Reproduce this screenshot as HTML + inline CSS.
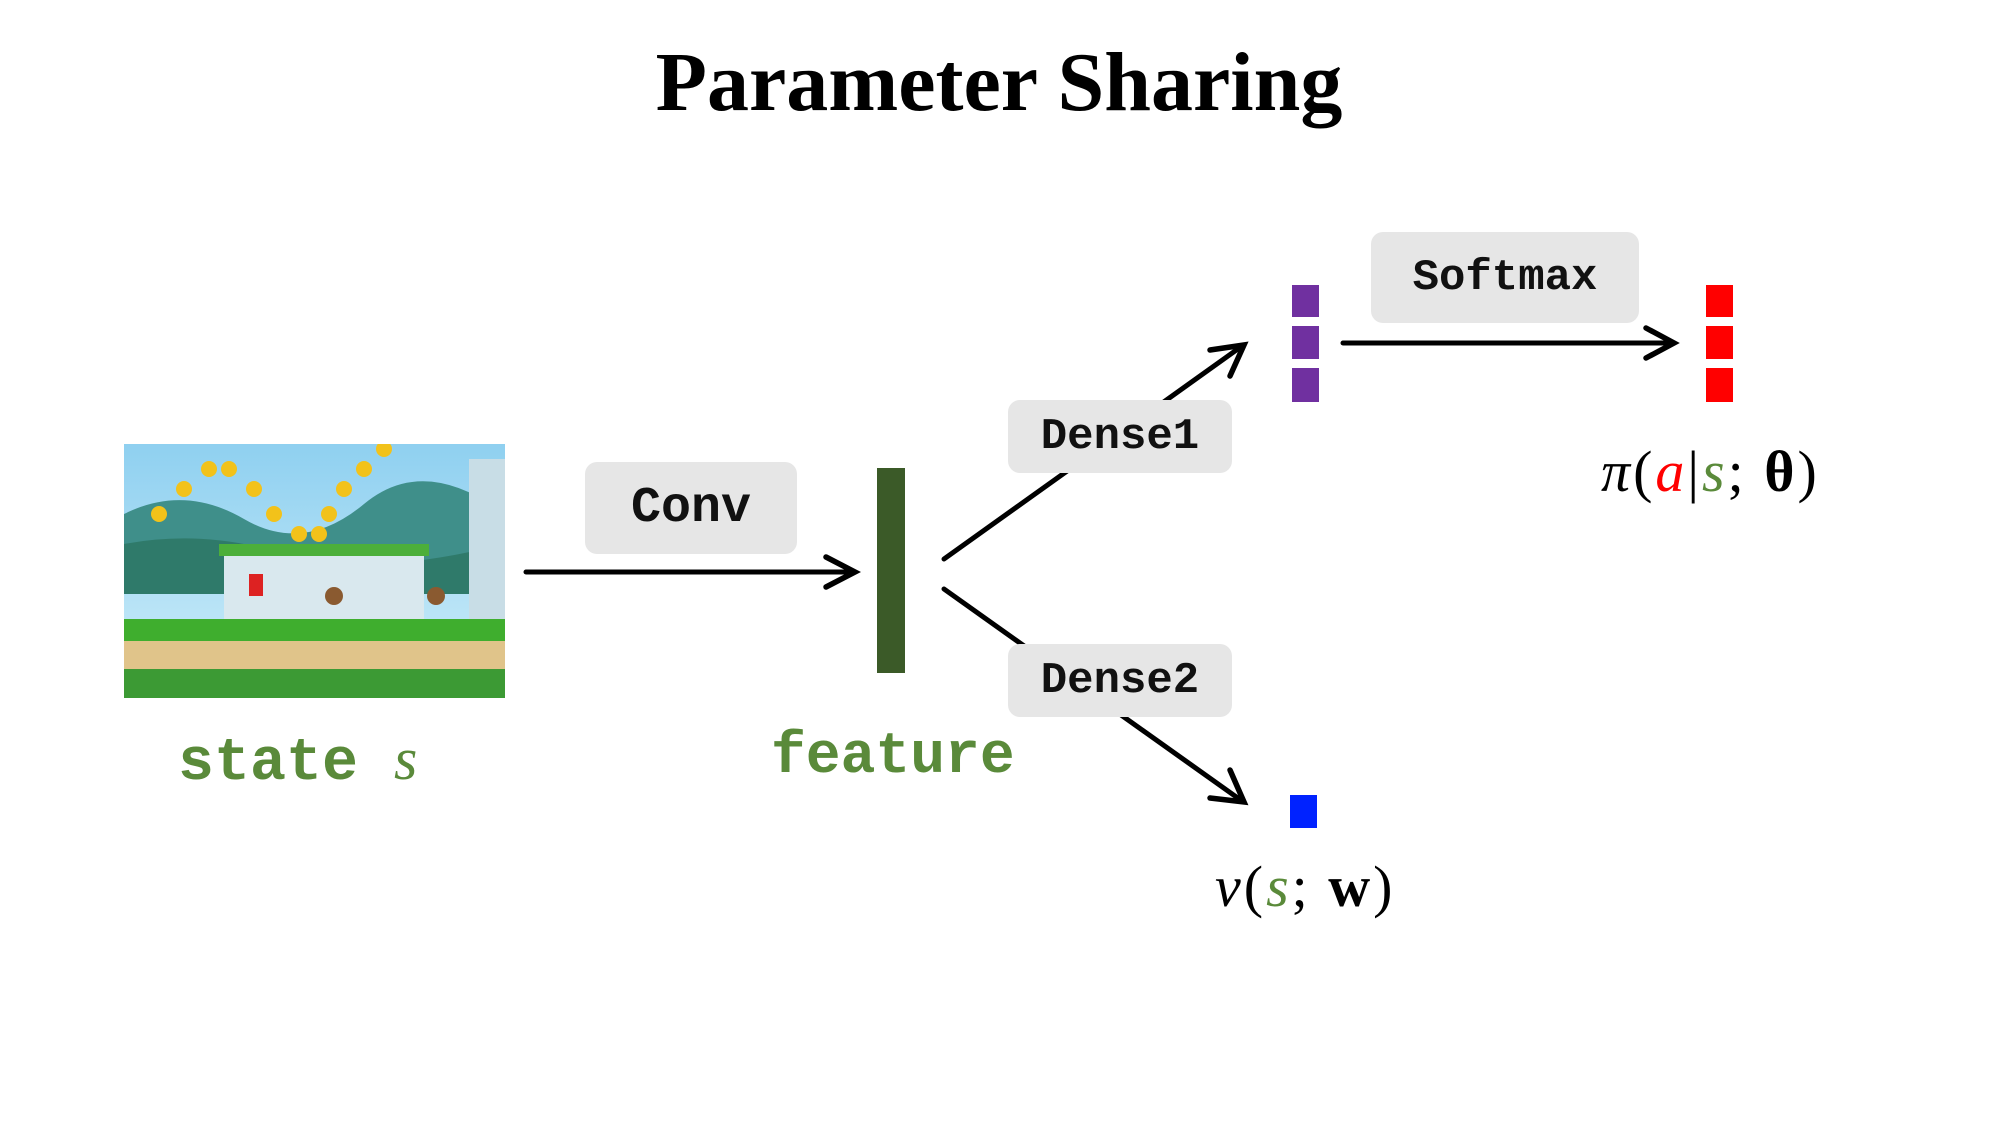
<!DOCTYPE html>
<html><head><meta charset="utf-8"><style>
html,body{margin:0;padding:0;background:#fff;}
#c{position:relative;width:2000px;height:1125px;overflow:hidden;font-family:"Liberation Serif",serif;}
.t{position:absolute;white-space:nowrap;}
.box{position:absolute;background:#e6e6e6;border-radius:12px;display:flex;align-items:center;justify-content:center;font-family:"Liberation Mono",monospace;font-weight:bold;color:#111;}
.sq{position:absolute;}
</style></head><body><div id="c">
<div class="t" style="left:0;width:1998px;text-align:center;top:34px;font-size:84px;font-weight:bold;">Parameter Sharing</div>

<svg style="position:absolute;left:124px;top:444px" width="381" height="254" viewBox="0 0 381 254">
<defs><linearGradient id="sky" x1="0" y1="0" x2="0" y2="1"><stop offset="0" stop-color="#8fd0f0"/><stop offset="1" stop-color="#cfeefa"/></linearGradient></defs>
<rect width="381" height="254" fill="url(#sky)"/>
<path d="M0 70 Q60 40 120 75 T240 60 T381 70 V140 H0Z" fill="#3f8f8a"/>
<path d="M0 100 Q80 85 160 110 T381 100 V150 H0Z" fill="#2f7a6a"/>
<rect x="100" y="105" width="200" height="80" fill="#d9e8ee"/>
<rect x="95" y="100" width="210" height="12" fill="#4caf3a"/>
<rect x="345" y="15" width="36" height="170" fill="#c8dde6"/>
<rect x="0" y="175" width="381" height="22" fill="#3fae2e"/>
<rect x="0" y="197" width="381" height="28" fill="#e0c48a"/>
<rect x="0" y="225" width="381" height="29" fill="#3c9a34"/>
<g fill="#f2c21a"><circle cx="85" cy="25" r="8"/><circle cx="105" cy="25" r="8"/><circle cx="60" cy="45" r="8"/><circle cx="35" cy="70" r="8"/><circle cx="130" cy="45" r="8"/><circle cx="150" cy="70" r="8"/><circle cx="175" cy="90" r="8"/><circle cx="195" cy="90" r="8"/><circle cx="240" cy="25" r="8"/><circle cx="260" cy="5" r="8"/><circle cx="220" cy="45" r="8"/><circle cx="205" cy="70" r="8"/></g>
<rect x="125" y="130" width="14" height="22" fill="#d22"/>
<circle cx="210" cy="152" r="9" fill="#8a5a30"/><circle cx="312" cy="152" r="9" fill="#8a5a30"/>
</svg>

<div class="t" style="left:178px;top:725px;font-family:'Liberation Mono',monospace;font-weight:bold;font-size:60px;color:#5a8a3a;">state <span style="font-family:'Liberation Serif',serif;font-style:italic;font-weight:normal;">s</span></div>

<svg style="position:absolute;left:0;top:0" width="2000" height="1125">
<g stroke="#000" stroke-width="5" fill="none" stroke-linecap="round">
<line x1="526" y1="572" x2="853" y2="572"/><polyline points="826,557 855,572 826,587" stroke-width="5.5"/>
<line x1="944" y1="559" x2="1242" y2="346"/><polyline points="1210,350 1244,345 1230,376" stroke-width="5.5"/>
<line x1="944" y1="589" x2="1242" y2="801"/><polyline points="1230,770 1244,802 1210,798" stroke-width="5.5"/>
<line x1="1343" y1="343" x2="1672" y2="343"/><polyline points="1646,328 1674,343 1646,358" stroke-width="5.5"/>
</g></svg>

<div class="box" style="left:585px;top:462px;width:212px;height:92px;font-size:50px;">Conv</div>
<div class="sq" style="left:877px;top:468px;width:28px;height:205px;background:#3b5a28;"></div>
<div class="t" style="left:771px;top:725px;font-family:'Liberation Mono',monospace;font-weight:bold;font-size:58px;color:#5a8a3a;">feature</div>

<div class="box" style="left:1008px;top:400px;width:224px;height:73px;font-size:44px;">Dense1</div>
<div class="box" style="left:1008px;top:644px;width:224px;height:73px;font-size:44px;">Dense2</div>
<div class="box" style="left:1371px;top:232px;width:268px;height:91px;font-size:44px;">Softmax</div>

<div class="sq" style="left:1292px;top:285px;width:27px;height:32px;background:#7030a0;"></div>
<div class="sq" style="left:1292px;top:326px;width:27px;height:33px;background:#7030a0;"></div>
<div class="sq" style="left:1292px;top:368px;width:27px;height:34px;background:#7030a0;"></div>
<div class="sq" style="left:1706px;top:285px;width:27px;height:32px;background:#ff0000;"></div>
<div class="sq" style="left:1706px;top:326px;width:27px;height:33px;background:#ff0000;"></div>
<div class="sq" style="left:1706px;top:368px;width:27px;height:34px;background:#ff0000;"></div>
<div class="sq" style="left:1290px;top:795px;width:27px;height:33px;background:#0022ff;"></div>

<div class="t" style="left:1601px;top:438px;font-size:58px;letter-spacing:3px;"><i>π</i>(<i style="color:#f00">a</i>|<i style="color:#5a8a3a">s</i>; <b>θ</b>)</div>
<div class="t" style="left:1215px;top:853px;font-size:58px;letter-spacing:3px;"><i>v</i>(<i style="color:#5a8a3a">s</i>; <b>w</b>)</div>
</div></body></html>
